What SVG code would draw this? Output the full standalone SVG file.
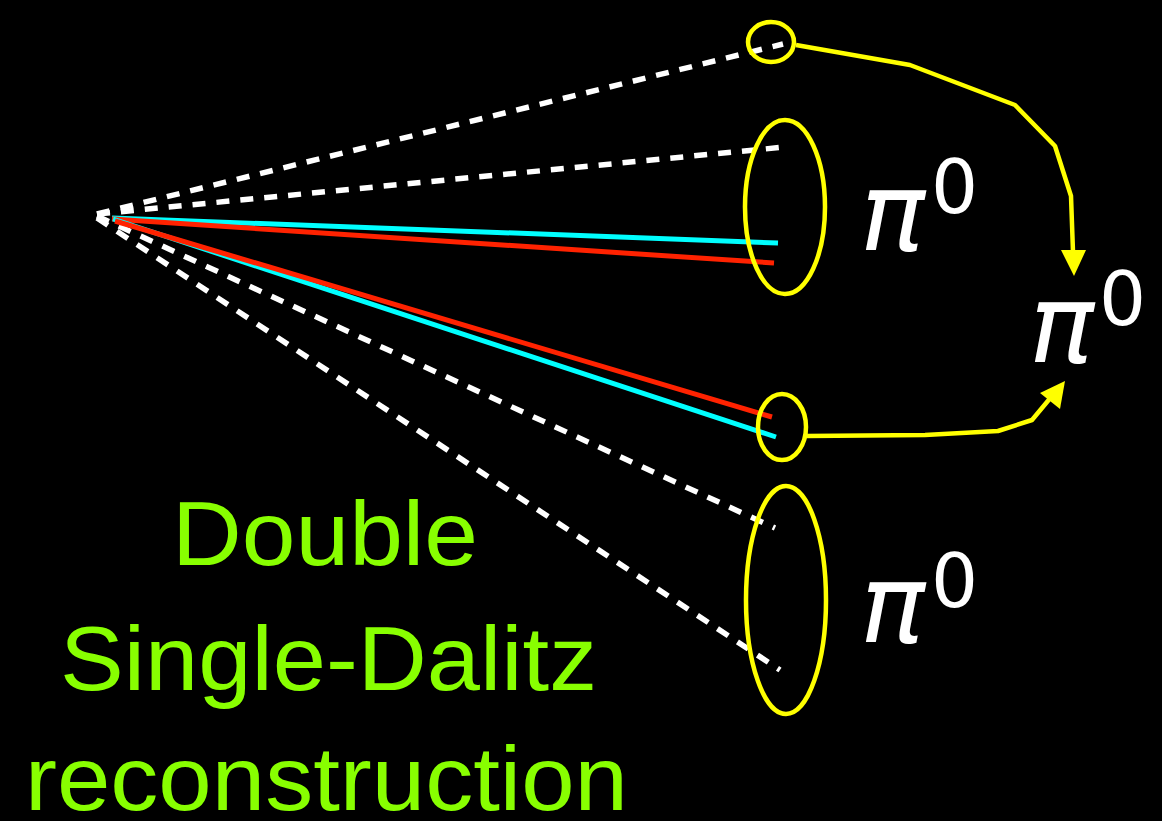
<svg xmlns="http://www.w3.org/2000/svg" width="1162" height="821" viewBox="0 0 1162 821">
<style>
.dash{stroke:#fff;stroke-width:5.5;stroke-dasharray:13 11;fill:none}
.cyan{stroke:#00ffff;stroke-width:5;fill:none}
.red{stroke:#ff2200;stroke-width:5;fill:none}
.ring{stroke:#ffff00;stroke-width:4.5;fill:none}
.arr{stroke:#ffff00;stroke-width:4.5;fill:none;stroke-linejoin:round}
.pi{font-family:"DejaVu Sans",sans-serif;fill:#fff}
.it{font-style:italic}
.lbl{font-family:"Liberation Sans",Arial,sans-serif;fill:#88ff00;font-size:90px}
</style>
<rect width="1162" height="821" fill="#000"/>
<g id="connectors">
<line class="dash" x1="97" y1="214" x2="783" y2="44"/>
<line class="dash" x1="97" y1="214" x2="785" y2="147"/>
<line class="dash" x1="97" y1="216" x2="775" y2="528"/>
<line class="dash" x1="97" y1="218" x2="780" y2="670"/>
<line class="cyan" x1="112" y1="218" x2="778" y2="243"/>
<line class="red" x1="112" y1="219" x2="774" y2="263"/>
<line class="cyan" x1="113" y1="219" x2="776" y2="437"/>
<line class="red" x1="115" y1="221" x2="772" y2="417"/>
<polyline class="arr" points="796,45 910,65 1015,105 1055,146 1071,196 1073,252"/>
<polygon points="1061,250 1086,250 1074,276" fill="#ffff00"/>
<polyline class="arr" points="806,436 925,435 998,431 1032,420 1052,396"/>
<polygon points="1065,381 1040,393 1060,409" fill="#ffff00"/>
</g>
<g id="ring-top-small"><ellipse class="ring" cx="771" cy="42" rx="23" ry="20"/></g>
<g id="ring-top"><ellipse class="ring" cx="785" cy="207" rx="40" ry="87"/></g>
<g id="ring-mid-small"><ellipse class="ring" cx="782" cy="427" rx="24" ry="33"/></g>
<g id="ring-bottom"><ellipse class="ring" cx="786" cy="600" rx="40" ry="114"/></g>
<g id="pi-top"><text class="pi it" x="860" y="250" font-size="108">π</text><text class="pi" x="931" y="213" font-size="74">0</text></g>
<g id="pi-mid"><text class="pi it" x="1029" y="362" font-size="108">π</text><text class="pi" x="1099" y="325" font-size="74">0</text></g>
<g id="pi-bottom"><text class="pi it" x="860" y="642" font-size="108">π</text><text class="pi" x="931" y="607" font-size="74">0</text></g>
<g id="label">
<text class="lbl" x="172" y="565" textLength="306" lengthAdjust="spacingAndGlyphs">Double</text>
<text class="lbl" x="60" y="690" textLength="537" lengthAdjust="spacingAndGlyphs">Single-Dalitz</text>
<text class="lbl" x="25" y="810" textLength="603" lengthAdjust="spacingAndGlyphs">reconstruction</text>
</g>
</svg>
